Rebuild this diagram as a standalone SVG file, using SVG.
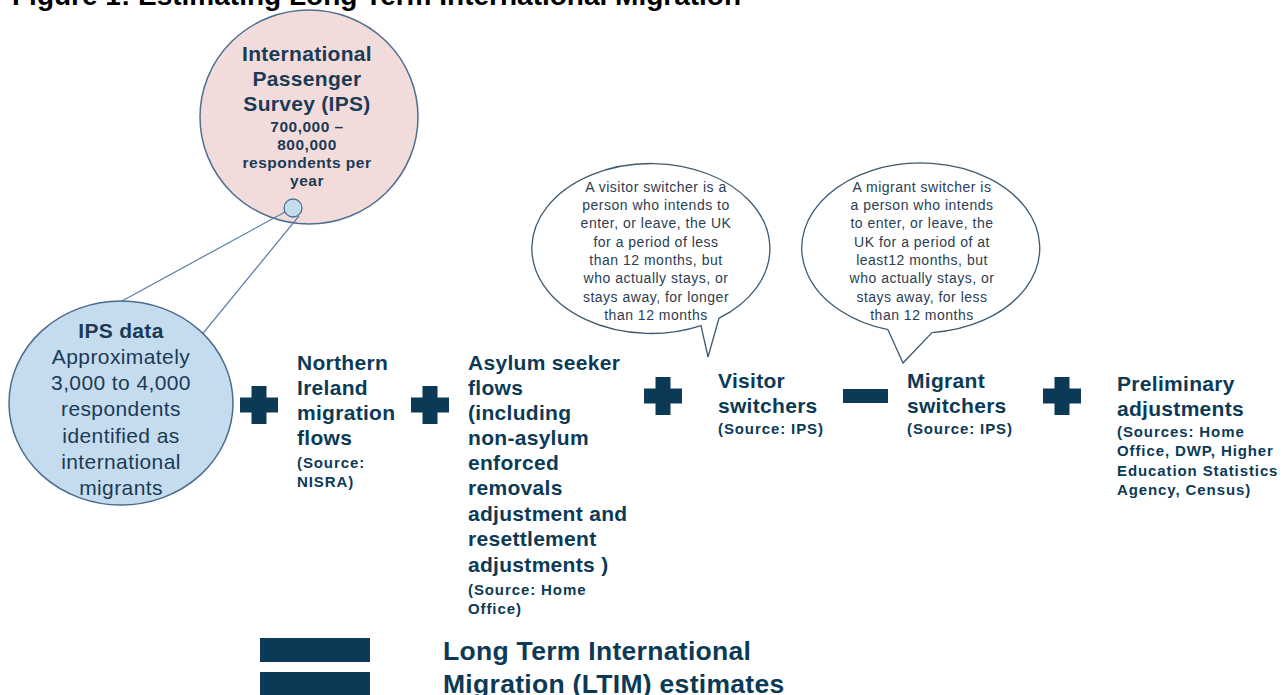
<svg xmlns="http://www.w3.org/2000/svg" width="1283" height="695" viewBox="0 0 1283 695">
<style>
  .title{font-family:"Liberation Sans",Arial,sans-serif;font-weight:bold;font-size:28px;fill:#000}
  .lbl{font-family:"Liberation Sans",Arial,sans-serif;font-weight:bold;font-size:21px;fill:#0c3a56;letter-spacing:0.3px}
  .src{font-family:"Liberation Sans",Arial,sans-serif;font-weight:bold;font-size:15px;fill:#0c3a56;letter-spacing:0.9px}
  .ctb{font-family:"Liberation Sans",Arial,sans-serif;font-weight:bold;font-size:21px;fill:#1b3a55;text-anchor:middle;letter-spacing:0.3px}
  .cts{font-family:"Liberation Sans",Arial,sans-serif;font-weight:bold;font-size:15.5px;fill:#1b3a55;text-anchor:middle;letter-spacing:0.5px}
  .ctn{font-family:"Liberation Sans",Arial,sans-serif;font-size:21px;fill:#1b3a55;text-anchor:middle;letter-spacing:0.4px}
  .bub{font-family:"Liberation Sans",Arial,sans-serif;font-size:14px;fill:#2b3d52;text-anchor:middle;letter-spacing:0.5px}
  .big{font-family:"Liberation Sans",Arial,sans-serif;font-weight:bold;font-size:26.5px;fill:#0c3a56;letter-spacing:0.3px}
  .sym{fill:#0c3a56}
  .bubshape{fill:#fff;stroke:#3e5a70;stroke-width:1.3}
  .conn{stroke:#5a7fa5;stroke-width:1.2;fill:none}
</style>
<defs>
  <g id="plus"><rect x="-19" y="-7.5" width="38" height="15"/><rect x="-7.5" y="-19" width="15" height="38"/></g>
</defs>
<rect width="1283" height="695" fill="#fff"/>
<text class="title" x="12" y="5">Figure 1: Estimating Long Term International Migration</text>

<g id="ips-survey">
  <ellipse cx="309" cy="117" rx="109" ry="107" fill="#f2dcdb" stroke="#4f6f8f" stroke-width="1.5"/>
  <text class="ctb" x="307" y="61">International</text>
  <text class="ctb" x="307" y="86">Passenger</text>
  <text class="ctb" x="307" y="111">Survey (IPS)</text>
  <text class="cts" x="307" y="132">700,000 –</text>
  <text class="cts" x="307" y="150">800,000</text>
  <text class="cts" x="307" y="168">respondents per</text>
  <text class="cts" x="307" y="186">year</text>
</g>

<g id="connectors">
  <line class="conn" x1="285" y1="212" x2="122" y2="301"/>
  <line class="conn" x1="299" y1="216" x2="200" y2="337"/>
</g>

<g id="ips-sample">
  <circle cx="293" cy="208" r="9" fill="#c5dcef" stroke="#4f6f8f" stroke-width="1.3"/>
</g>

<g id="ips-data">
  <ellipse cx="121" cy="403" rx="112" ry="102" fill="#c5dcef" stroke="#4a6b8c" stroke-width="1.5"/>
  <text class="ctb" x="121" y="338">IPS data</text>
  <text class="ctn" x="121" y="364">Approximately</text>
  <text class="ctn" x="121" y="390">3,000 to 4,000</text>
  <text class="ctn" x="121" y="416">respondents</text>
  <text class="ctn" x="121" y="443">identified as</text>
  <text class="ctn" x="121" y="469">international</text>
  <text class="ctn" x="121" y="495">migrants</text>
</g>

<g id="plus1" class="sym"><use href="#plus" x="259" y="405"/></g>

<g id="ni-flows">
  <text class="lbl" x="297" y="370">Northern</text>
  <text class="lbl" x="297" y="395">Ireland</text>
  <text class="lbl" x="297" y="420">migration</text>
  <text class="lbl" x="297" y="445">flows</text>
  <text class="src" x="297" y="468">(Source:</text>
  <text class="src" x="297" y="487">NISRA)</text>
</g>

<g id="plus2" class="sym"><use href="#plus" x="430" y="405"/></g>

<g id="asylum">
  <text class="lbl" x="468" y="370">Asylum seeker</text>
  <text class="lbl" x="468" y="395">flows</text>
  <text class="lbl" x="468" y="420">(including</text>
  <text class="lbl" x="468" y="445">non-asylum</text>
  <text class="lbl" x="468" y="470">enforced</text>
  <text class="lbl" x="468" y="495">removals</text>
  <text class="lbl" x="468" y="521">adjustment and</text>
  <text class="lbl" x="468" y="546">resettlement</text>
  <text class="lbl" x="468" y="572">adjustments )</text>
  <text class="src" x="468" y="595">(Source: Home</text>
  <text class="src" x="468" y="614">Office)</text>
</g>

<g id="plus3" class="sym"><use href="#plus" x="663" y="396"/></g>

<g id="visitor-bubble">
  <path class="bubshape" d="M701,325.6 A119,85 0 1 1 719,318.2 L708,357 Z"/>
  <text class="bub" x="656" y="192">A visitor switcher is a</text>
  <text class="bub" x="656" y="210">person who intends to</text>
  <text class="bub" x="656" y="228">enter, or leave, the UK</text>
  <text class="bub" x="656" y="247">for a period of less</text>
  <text class="bub" x="656" y="265">than 12 months, but</text>
  <text class="bub" x="656" y="283">who actually stays, or</text>
  <text class="bub" x="656" y="302">stays away, for longer</text>
  <text class="bub" x="656" y="320">than 12 months</text>
</g>

<g id="visitor">
  <text class="lbl" x="718" y="388">Visitor</text>
  <text class="lbl" x="718" y="413">switchers</text>
  <text class="src" x="718" y="434">(Source: IPS)</text>
</g>

<g id="minus" class="sym"><rect x="843" y="389" width="45" height="14"/></g>

<g id="migrant-bubble">
  <path class="bubshape" d="M888,329.7 A119,85 0 1 1 932,332.6 L903,363 Z"/>
  <text class="bub" x="922" y="192">A migrant switcher is</text>
  <text class="bub" x="922" y="210">a person who intends</text>
  <text class="bub" x="922" y="228">to enter, or leave, the</text>
  <text class="bub" x="922" y="247">UK for a period of at</text>
  <text class="bub" x="922" y="265">least12 months, but</text>
  <text class="bub" x="922" y="283">who actually stays, or</text>
  <text class="bub" x="922" y="302">stays away, for less</text>
  <text class="bub" x="922" y="320">than 12 months</text>
</g>

<g id="migrant">
  <text class="lbl" x="907" y="388">Migrant</text>
  <text class="lbl" x="907" y="413">switchers</text>
  <text class="src" x="907" y="434">(Source: IPS)</text>
</g>

<g id="plus5" class="sym"><use href="#plus" x="1062" y="396"/></g>

<g id="preliminary">
  <text class="lbl" x="1117" y="391">Preliminary</text>
  <text class="lbl" x="1117" y="416">adjustments</text>
  <text class="src" x="1117" y="437">(Sources: Home</text>
  <text class="src" x="1117" y="456">Office, DWP, Higher</text>
  <text class="src" x="1117" y="476">Education Statistics</text>
  <text class="src" x="1117" y="495">Agency, Census)</text>
</g>

<g id="equals" class="sym">
  <rect x="260" y="638" width="110" height="24"/>
  <rect x="260" y="672" width="110" height="24"/>
</g>

<g id="ltim">
  <text class="big" x="443" y="660">Long Term International</text>
  <text class="big" x="443" y="693">Migration (LTIM) estimates</text>
</g>
</svg>
